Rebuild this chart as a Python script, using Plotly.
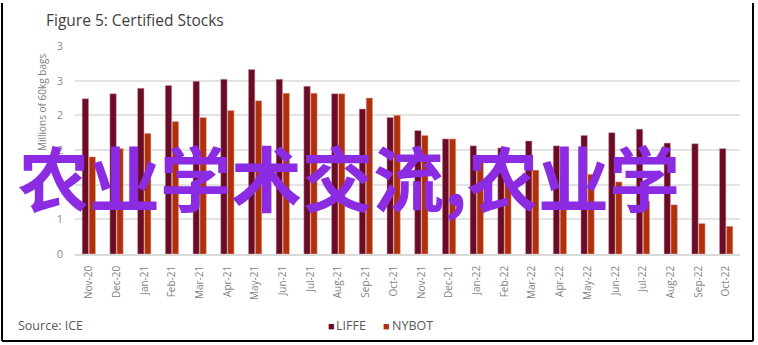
import plotly.graph_objects as go

months = ["Nov-20", "Dec-20", "Jan-21", "Feb-21", "Mar-21", "Apr-21", "May-21", "Jun-21",
          "Jul-21", "Aug-21", "Sep-21", "Oct-21", "Nov-21", "Dec-21", "Jan-22", "Feb-22",
          "Mar-22", "Apr-22", "May-22", "Jun-22", "Jul-22", "Aug-22", "Sep-22", "Oct-22"]
liffe = [2.24, 2.31, 2.39, 2.43, 2.49, 2.52, 2.66, 2.52, 2.42, 2.31, 2.09, 1.97,
         1.78, 1.66, 1.56, 1.53, 1.63, 1.56, 1.71, 1.75, 1.80, 1.60, 1.59, 1.52]
nybot = [1.40, 1.52, 1.74, 1.91, 1.97, 2.07, 2.21, 2.32, 2.32, 2.31, 2.25, 2.00,
         1.71, 1.66, 1.39, 1.07, 1.21, 1.19, 1.15, 1.04, 0.76, 0.71, 0.44, 0.40]
ytick_vals = [0, 0.5, 1.0, 1.5, 2.0, 2.5, 3.0]
ytick_text = ["0", "1", "1", "2", "2", "3", "3"]
series_names = ["LIFFE", "NYBOT"]
series_colors = ["#6b0b25", "#b1300c"]

W, H = 758, 345
L, R, T, B = 75, 18, 46, 91
pw, ph = W - L - R, H - T - B

def px(x):
    return (x - L) / pw

def py(y):
    return (H - B - y) / ph

fig = go.Figure()
fig.add_trace(go.Bar(x=months, y=liffe, name=series_names[0], marker_color=series_colors[0],
                     marker_line=dict(color="#c9a0aa", width=0.5)))
fig.add_trace(go.Bar(x=months, y=nybot, name=series_names[1], marker_color=series_colors[1],
                     marker_line=dict(color="#e8b0a0", width=0.5)))

font = "Open Sans"
fig.update_layout(
    width=W, height=H,
    margin=dict(l=L, r=R, t=T, b=B, autoexpand=False),
    paper_bgcolor="white", plot_bgcolor="white",
    barmode="group", bargap=0.5, bargroupgap=0.08,
    showlegend=False,
    font=dict(family=font),
)
fig.update_xaxes(tickangle=-90, tickfont=dict(family=font, size=10, color="#7f7f7f"),
                 showline=True, linecolor="#d9d9d9", linewidth=1.5, ticks="",
                 showgrid=False, automargin=False, ticklabelstandoff=6)
fig.update_yaxes(range=[0, 3], tickvals=ytick_vals, ticktext=ytick_text,
                 tickfont=dict(family=font, size=11, color="#8c8c8c"),
                 showgrid=True, gridcolor="#e3e3e3", gridwidth=1.5,
                 zeroline=False, ticks="", ticklabelstandoff=11, automargin=False)

annotations = [
    dict(text="Figure 5: Certified Stocks", x=px(44), y=py(20), xanchor="left", yanchor="middle",
         showarrow=False, font=dict(family=font, size=15.5, color="#404040")),
    dict(text="Source: ICE", x=px(16), y=py(325), xanchor="left", yanchor="middle",
         showarrow=False, font=dict(family=font, size=12.5, color="#595959")),
    dict(text="Millions of 60kg bags", x=px(42), y=py(103), textangle=-90,
         xanchor="center", yanchor="middle", showarrow=False,
         font=dict(family=font, size=10, color="#7f7f7f")),
    dict(text="农业学术交流,农业学", x=px(349), y=py(175), xanchor="center", yanchor="middle",
         showarrow=False,
         font=dict(family="Noto Sans CJK SC", size=71, color="#8B2BE2", weight="bold")),
]
# legend drawn as text: small coloured square + series name
legend_pos = [(326, 334), (381, 390)]
for (sx, tx), n, c in zip(legend_pos, series_names, series_colors):
    annotations.append(dict(text="■", x=px(sx), y=py(325), xanchor="left", yanchor="middle",
                            showarrow=False, font=dict(family=font, size=11, color=c)))
    annotations.append(dict(text=n, x=px(tx), y=py(325), xanchor="left", yanchor="middle",
                            showarrow=False, font=dict(family=font, size=12.5, color="#595959")))
for a in annotations:
    a.update(xref="paper", yref="paper")
fig.update_layout(annotations=annotations)

line = dict(color="black", width=2)
fig.update_layout(shapes=[
    dict(type="line", xref="paper", yref="paper", x0=px(2), x1=px(2), y0=py(3), y1=py(341), line=line),
    dict(type="line", xref="paper", yref="paper", x0=px(753), x1=px(753), y0=py(3), y1=py(341), line=line),
    dict(type="line", xref="paper", yref="paper", x0=px(2), x1=px(753), y0=py(341), y1=py(341), line=line),
])

fig.write_html("out.html")
